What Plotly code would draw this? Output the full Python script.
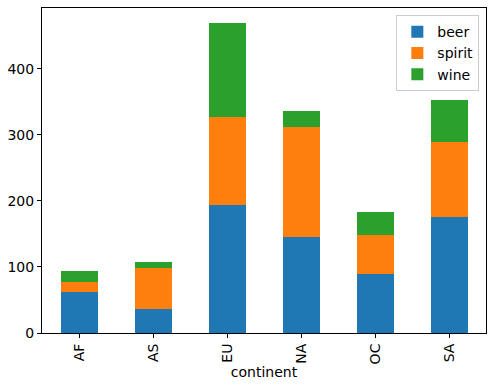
import plotly.graph_objects as go

continents = ["AF", "AS", "EU", "NA", "OC", "SA"]
beer = [61.47, 37.05, 193.78, 145.43, 89.69, 175.08]
spirit = [16.34, 60.84, 132.56, 165.74, 58.44, 114.75]
wine = [16.26, 9.07, 142.22, 24.52, 35.63, 62.42]
yticks = [0, 100, 200, 300, 400]

series = [("beer", beer, "#1f77b4"), ("spirit", spirit, "#ff7f0e"), ("wine", wine, "#2ca02c")]

fig = go.Figure()
for name, vals, col in series:
    fig.add_trace(go.Bar(x=list(range(len(continents))), y=vals, name=name,
                         marker=dict(color=col, line=dict(width=0)), width=0.5))

totals = [b + s + w for b, s, w in zip(beer, spirit, wine)]
fig.update_layout(
    barmode="stack",
    width=494, height=386,
    margin=dict(l=41, r=7, t=7, b=53),
    paper_bgcolor="white", plot_bgcolor="white",
    font=dict(family="DejaVu Sans", size=14, color="black"),
    bargap=0,
    showlegend=True,
    legend=dict(x=0.985, y=0.978, xanchor="right", yanchor="top",
                bordercolor="#cccccc", borderwidth=1, bgcolor="white",
                font=dict(size=14), traceorder="normal", tracegroupgap=0,
                itemwidth=30),
    xaxis=dict(range=[-0.5, 5.5], tickmode="array", tickvals=list(range(len(continents))),
               ticktext=continents, tickangle=-90, ticks="outside", ticklen=4,
               tickcolor="black", showline=True, linecolor="black", linewidth=1,
               mirror=True, showgrid=False, zeroline=False,
               title=dict(text="continent", standoff=2, font=dict(size=14))),
    yaxis=dict(range=[0, max(totals) * 1.05], tickmode="array", tickvals=yticks,
               ticks="outside", ticklen=4, tickcolor="black", showline=True,
               linecolor="black", linewidth=1, mirror=True, showgrid=False,
               zeroline=False),
)
fig.write_html("out.html")
